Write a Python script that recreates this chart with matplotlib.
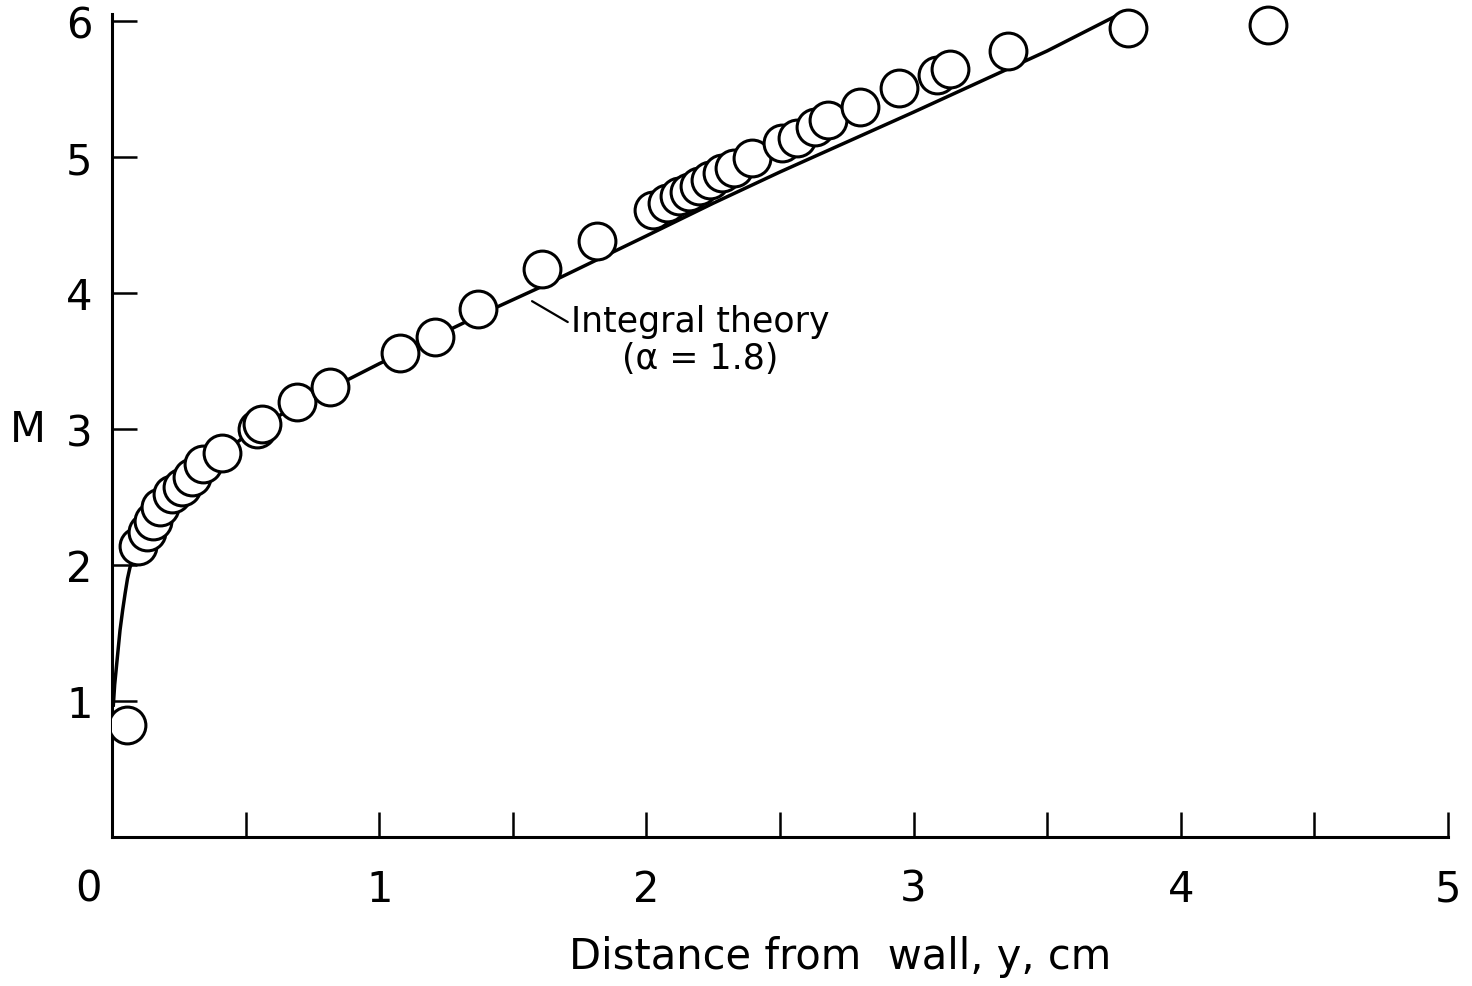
import numpy as np
import matplotlib
matplotlib.use('Agg')
import matplotlib.pyplot as plt
import matplotlib.transforms as mtrans

y_dist = [0.056, 0.097, 0.131, 0.153, 0.180, 0.225, 0.262, 0.299, 0.341, 0.412,
          0.543, 0.561, 0.692, 0.816, 1.078, 1.209, 1.370, 1.609, 1.815,
          2.025, 2.077, 2.122, 2.159, 2.197, 2.238, 2.283, 2.328, 2.395,
          2.507, 2.564, 2.631, 2.680, 2.799, 2.945, 3.088, 3.136, 3.353,
          3.802, 4.326]
mach = [0.82, 2.14, 2.24, 2.32, 2.43, 2.52, 2.57, 2.65, 2.74, 2.82,
        3.00, 3.04, 3.20, 3.31, 3.56, 3.68, 3.88, 4.18, 4.38,
        4.61, 4.66, 4.71, 4.74, 4.79, 4.83, 4.88, 4.92, 4.99,
        5.10, 5.14, 5.22, 5.27, 5.37, 5.51, 5.60, 5.65, 5.78,
        5.95, 5.97]

# integral theory curve (alpha = 1.8)
theory_x = [0.005, 0.010, 0.019, 0.030, 0.040, 0.049, 0.058, 0.067, 0.08, 0.10,
            0.125, 0.15, 0.20, 0.25, 0.30, 0.40, 0.50, 0.60, 0.70, 0.80,
            1.00, 1.20, 1.40, 1.60, 1.80, 2.00, 2.25, 2.50, 2.75, 3.00,
            3.25, 3.50, 3.75]
theory_m = [0.97, 1.12, 1.30, 1.52, 1.67, 1.79, 1.90, 1.98, 2.05, 2.13,
            2.21, 2.28, 2.42, 2.54, 2.64, 2.80, 2.95, 3.07, 3.18, 3.28,
            3.48, 3.67, 3.86, 4.04, 4.23, 4.42, 4.66, 4.89, 5.11, 5.33,
            5.555, 5.78, 6.03]

xticks = [0, 1, 2, 3, 4, 5]
yticks = [1, 2, 3, 4, 5, 6]

fsize_tick = 30
fsize_label = 30
fsize_note = 25
lw = 2.5

fig = plt.figure(figsize=(14.72, 9.87), dpi=100)
# y range a bit taller than the spine so the top circles are not clipped
ymax = 6.2
ax = fig.add_axes([112/1472, 1-838/987, 1336/1472, ymax*136/987])

ax.plot(theory_x, theory_m, color='k', lw=lw, zorder=2,
        solid_joinstyle='round')
ax.plot(y_dist, mach, 'o', ms=26.5, mfc='white', mec='k', mew=2.2, zorder=3)

ax.set_xlim(0, 5)
ax.set_ylim(0, ymax)
for s in ['top', 'right']:
    ax.spines[s].set_visible(False)
for s in ['left', 'bottom']:
    ax.spines[s].set_linewidth(2.2)
ax.spines['left'].set_bounds(0, 6.05)

ax.set_xticks(xticks)
ax.set_xticks(np.arange(0.5, 5, 1), minor=True)
ax.set_yticks(yticks)
ax.tick_params(axis='both', which='both', direction='in', length=18, width=1.8,
               labelsize=fsize_tick)
ax.tick_params(axis='x', which='major', pad=22)
ax.tick_params(axis='y', which='major', pad=14)
ax.set_xticklabels([str(v) for v in xticks])
ax.set_yticklabels([str(v) for v in yticks])
# the "0" sits left of the origin in the original
lab0 = ax.get_xticklabels()[0]
lab0.set_transform(lab0.get_transform() + mtrans.ScaledTranslation(-0.24, 0, fig.dpi_scale_trans))

ax.set_ylabel('M', rotation=0, fontsize=fsize_label, va='center', ha='center')
ax.yaxis.set_label_coords(-0.063, 3/ymax)
fig.text(840/1472, 1-957/987, 'Distance from  wall, y, cm', fontsize=fsize_label,
         ha='center', va='center')

ax.annotate('Integral theory\n(α = 1.8)', xy=(1.572, 3.94), xytext=(2.20, 3.66),
            fontsize=fsize_note, ha='center', va='center', linespacing=1.1,
            arrowprops=dict(arrowstyle='-', color='k', lw=1.6,
                            shrinkA=0, shrinkB=0,
                            relpos=(0.0, 0.72)))

plt.savefig('out.png', dpi=100)
